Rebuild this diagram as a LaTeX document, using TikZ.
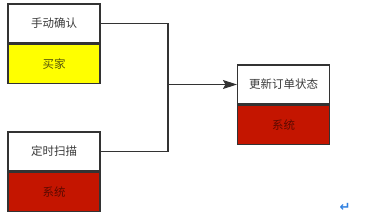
\documentclass[tikz,border=0pt]{standalone}
\usepackage{fontspec}
\newfontfamily\cjk{Noto Sans CJK SC}
\newfontfamily\symfont{DejaVu Sans}
\usepackage{xcolor}
\usetikzlibrary{positioning,arrows.meta}
\definecolor{edgegray}{HTML}{333333}
\definecolor{textgray}{HTML}{3A3A3A}
\definecolor{sysred}{HTML}{C41500}
\definecolor{sysdark}{HTML}{5C0A00}
\definecolor{buyyel}{HTML}{FFFF00}
\definecolor{buydark}{HTML}{55550A}
\definecolor{markblue}{HTML}{2F7FE0}

\tikzset{
    cell/.style={draw=edgegray, line width=1.1pt, minimum width=92pt, minimum height=39pt,
        inner sep=0pt, font=\cjk\fontsize{11.5}{13}\selectfont, text=textgray, fill=white},
    buyercell/.style={cell, fill=buyyel, text=buydark},
    syscell/.style={cell, fill=sysred, text=sysdark},
    link/.style={draw=edgegray, line width=1.1pt}
}

\begin{document}
\begin{tikzpicture}[x=1pt, y=-1pt]
    \useasboundingbox (0,0) rectangle (365,215);
    % Left column: two triggers
    \node[cell] (confirm) at (54,23.5) {手动确认};
    \node[buyercell, below=0pt of confirm] (buyer) {买家};
    \node[cell] (scan) at (54,151.5) {定时扫描};
    \node[syscell, below=0pt of scan] (scansys) {系统};
    % Right: resulting action
    \node[cell] (update) at (283.5,84.5) {更新订单状态};
    \node[syscell, below=0pt of update] (updatesys) {系统};
    % Connectors
    \coordinate (junc) at (168,84.5);
    \draw[link] (confirm.east) -| (junc);
    \draw[link] (scan.east) -| (junc);
    \draw[link, -{Stealth[length=14pt, width=9pt, inset=2.5pt]}] (junc) -- (update.west);
    % Paragraph mark
    \node[text=markblue, font=\symfont\bfseries\fontsize{13}{13}\selectfont, inner sep=0pt] (mark) at (345,207) {↵};
\end{tikzpicture}
\end{document}
